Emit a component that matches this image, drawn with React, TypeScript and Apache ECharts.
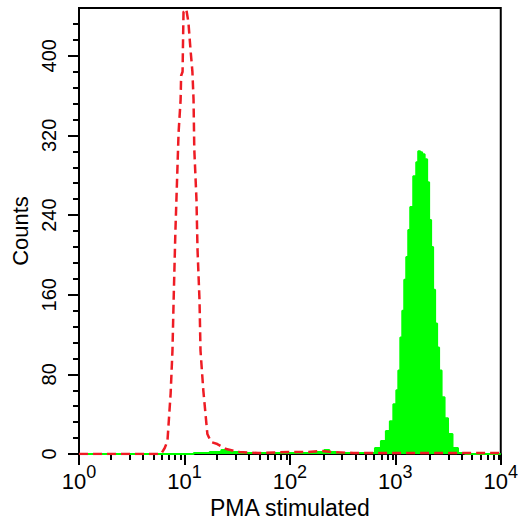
import React, { useEffect, useRef } from 'react';
import * as echarts from 'echarts';

// Axis ticks
const xMajorTicks = [1, 10, 100, 1000, 10000];
const xMinorTicks = [
  2, 3, 4, 5, 6, 7, 8, 9,
  20, 30, 40, 50, 60, 70, 80, 90,
  200, 300, 400, 500, 600, 700, 800, 900,
  2000, 3000, 4000, 5000, 6000, 7000, 8000, 9000,
];
const yMajorTicks = [0, 80, 160, 240, 320, 400];
const yMinorTicks = [
  16, 32, 48, 64, 96, 112, 128, 144, 176, 192, 208, 224,
  256, 272, 288, 304, 336, 352, 368, 384, 416, 432,
];

// Unstimulated control (red dashed)
const redX = [1, 6.0, 6.5, 6.9, 7.4, 7.7, 7.9, 8.2, 8.6, 8.8, 9.2, 9.3, 9.6, 9.7, 9.8, 10.4, 10.9, 11.4, 11.9, 12.2, 12.4, 13.0, 13.3, 13.9, 14.2, 15.1, 16.5, 17.9, 20.5, 24.9, 33, 50, 100, 150, 200, 250, 400, 1000, 3000, 10000];
const redY = [0, 0, 6, 13, 61, 104, 155, 222, 290, 323, 356, 380, 384, 415, 444, 447, 434, 407, 384, 356, 306, 256, 206, 154, 104, 64, 20, 12, 10, 5, 2, 1, 2, 2, 3, 2, 1, 1, 1, 1];

// PMA stimulated (green filled)
const greenX = [1, 10, 15, 20, 25, 30, 40, 60, 100, 150, 200, 224, 250, 300, 400, 500, 594, 692, 771, 859, 917, 1000, 1045, 1091, 1140, 1189, 1242, 1298, 1355, 1416, 1545, 1614, 1684, 1760, 1837, 1960, 2047, 2138, 2233, 2333, 2437, 2545, 2658, 2838, 3028, 3301, 3680, 4198, 5000, 10000];
const greenY = [0, 0, 1, 2, 4, 2, 1, 1, 1, 1, 2, 4, 2, 1, 1, 1, 1, 6, 13, 23, 33, 50, 64, 84, 117, 144, 175, 198, 225, 248, 279, 293, 304, 303, 301, 296, 273, 235, 208, 165, 131, 107, 84, 57, 36, 20, 6, 1, 0, 0];

const FONT = '"Liberation Sans", Arial, Helvetica, sans-serif';

export default function App() {
  const ref = useRef<HTMLDivElement>(null);
  useEffect(() => {
    if (!ref.current) return;
    const chart = echarts.init(ref.current, undefined, { renderer: 'svg' });
    const gridRect = { left: 79, top: 8, width: 425, height: 446 };
    chart.setOption({
      animation: false,
      backgroundColor: '#fff',
      grid: [
        { ...gridRect, show: true, borderColor: '#000', borderWidth: 2, backgroundColor: 'transparent' },
        { ...gridRect, show: false },
      ],
      xAxis: [
        {
          type: 'log', logBase: 10, min: 1, max: 10000, gridIndex: 0, position: 'bottom',
          axisLine: { show: true, lineStyle: { color: '#000', width: 2 } },
          axisTick: { show: true, length: 11, customValues: xMajorTicks, lineStyle: { color: '#000', width: 2 } },
          axisLabel: {
            customValues: xMajorTicks,
            margin: 9,
            formatter: (v: number) => `{b|10}{s|${Math.round(Math.log10(v))}}`,
            rich: {
              b: { fontSize: 22, fontFamily: FONT, color: '#000', verticalAlign: 'bottom' },
              s: { fontSize: 18, fontFamily: FONT, color: '#000', verticalAlign: 'top', padding: [0, 0, 11, 0] },
            },
          },
          splitLine: { show: false },
          name: 'PMA stimulated', nameLocation: 'middle', nameGap: 42,
          nameTextStyle: { fontSize: 23, fontFamily: FONT, color: '#000' },
        },
        {
          type: 'log', logBase: 10, min: 1, max: 10000, gridIndex: 1, position: 'bottom',
          axisLine: { show: false },
          axisTick: { show: true, length: 6, customValues: xMinorTicks, lineStyle: { color: '#000', width: 2 } },
          axisLabel: { show: false },
          splitLine: { show: false },
        },
      ],
      yAxis: [
        {
          type: 'value', min: 0, max: 448, gridIndex: 0, position: 'left',
          axisLine: { show: true, lineStyle: { color: '#000', width: 2 } },
          axisTick: { show: true, length: 11, customValues: yMajorTicks, lineStyle: { color: '#000', width: 2 } },
          axisLabel: { customValues: yMajorTicks, rotate: 90, margin: 20, fontSize: 20, fontFamily: FONT, color: '#000' },
          splitLine: { show: false },
          name: 'Counts', nameLocation: 'middle', nameGap: 41, nameRotate: 90,
          nameTextStyle: { fontSize: 22, fontFamily: FONT, color: '#000' },
        },
        {
          type: 'value', min: 0, max: 448, gridIndex: 1, position: 'left',
          axisLine: { show: false },
          axisTick: { show: true, length: 6, customValues: yMinorTicks, lineStyle: { color: '#000', width: 2 } },
          axisLabel: { show: false },
          splitLine: { show: false },
        },
      ],
      series: [
        {
          name: 'PMA stimulated', type: 'line', xAxisIndex: 0, yAxisIndex: 0,
          data: greenX.map((x, i) => [x, greenY[i]]),
          step: 'middle', showSymbol: false, symbol: 'none',
          lineStyle: { color: '#00ff00', width: 2 },
          areaStyle: { color: '#00ff00', opacity: 1 },
          z: 2,
        },
        {
          name: 'Control', type: 'line', xAxisIndex: 0, yAxisIndex: 0,
          data: redX.map((x, i) => [x, redY[i]]),
          showSymbol: false, symbol: 'none',
          lineStyle: { color: '#ee1c24', width: 2.5, type: [9, 5] },
          z: 3,
        },
      ],
    });
    return () => chart.dispose();
  }, []);
  return <div ref={ref} style={{ position: 'absolute', left: 0, top: 0, width: 521, height: 526 }} />;
}
